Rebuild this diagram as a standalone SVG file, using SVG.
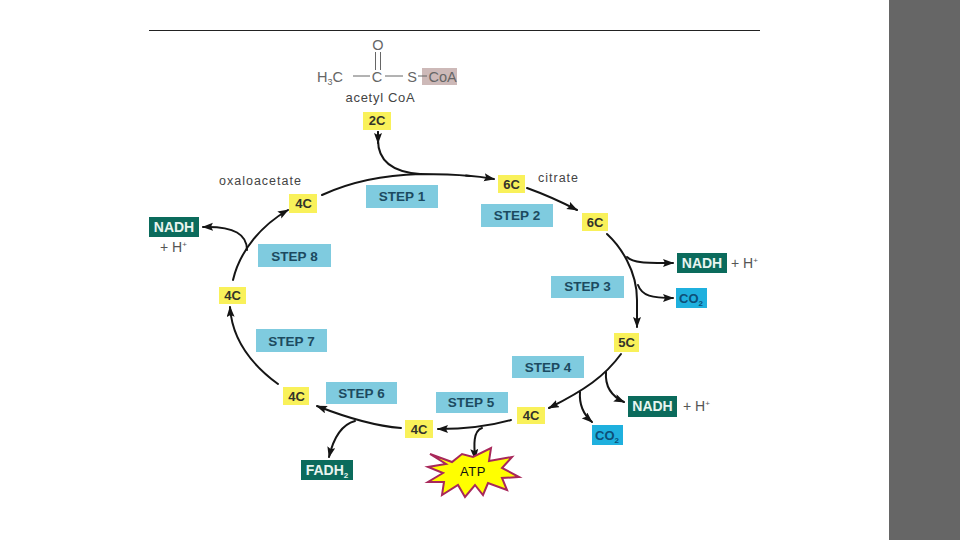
<svg xmlns="http://www.w3.org/2000/svg" width="960" height="540" viewBox="0 0 960 540">
<style>
text{font-family:"Liberation Sans",Arial,sans-serif}
.y rect{fill:#f9f15a}
.y text{font-size:13px;font-weight:bold;fill:#33332a;text-anchor:middle}
.s rect{fill:#7fcbdf}
.s text{font-size:13.500px;font-weight:bold;fill:#1c4a60;text-anchor:middle}
.g rect{fill:#0b6b5c}
.g text{font-size:14px;font-weight:bold;fill:#e8f5f0;text-anchor:middle}
.c rect{fill:#1fb0de}
.c text{font-size:13px;font-weight:bold;fill:#0d4f78;text-anchor:middle}
.t{font-size:12.500px;fill:#444;letter-spacing:1px}
.p{font-size:14px;fill:#555}
.sub{font-size:8px}
.l{fill:none;stroke:#151515;stroke-width:2;stroke-linecap:round}
.m{fill:none;stroke:#151515;stroke-width:2;stroke-linecap:round;marker-end:url(#a)}
.b{stroke:#666;stroke-width:1;fill:none}
.f{font-size:14.500px;fill:#666}
</style>
<defs><marker id="a" markerUnits="userSpaceOnUse" markerWidth="12" markerHeight="9" refX="10" refY="4" orient="auto"><path d="M0 0L11 4L0 8L2 4Z" fill="#151515"/></marker></defs>
<rect width="960" height="540" fill="#fff"/>
<rect x="889" y="0" width="71" height="540" fill="#666"/>
<line x1="149" y1="30.500" x2="760" y2="30.500" stroke="#222" stroke-width="1"/>

<g id="acetyl">
<rect x="422" y="68" width="35" height="17" fill="#cdb9b8"/>
<text class="f" x="317" y="82">H<tspan font-size="9" dy="3">3</tspan><tspan dy="-3">C</tspan></text>
<text class="f" x="377" y="82" text-anchor="middle">C</text>
<text class="f" x="412" y="82" text-anchor="middle">S</text>
<text class="f" x="428.500" y="82">CoA</text>
<text class="f" x="378" y="50" text-anchor="middle">O</text>
<path class="b" d="M353 76H370M385 76H403M418 76H427M375.500 52V70M380.500 52V70"/>
<text x="380.500" y="102" font-size="13" fill="#444" letter-spacing=".7" text-anchor="middle">acetyl CoA</text>
</g>

<g id="connectors">
<path class="l" d="M378 132V140C378 160 392 172 420 174"/>
<path class="m" d="M378 132V143"/>
<path class="l" d="M322 195C350 182 385 175 420 174C445 174 460 175 470 176"/>
<path class="m" d="M466 175.500Q480 176.500 494 179"/>
<path class="m" d="M527 188Q552 197 577 210"/>
<path class="m" d="M607 234C620 246 637 270 637 300L637 327"/>
<path class="m" d="M627 257C633 263 645 263 673 263"/>
<path class="m" d="M638 285C642 296 652 298 673 298"/>
<path class="m" d="M621 354C605 376 585 390 549 408"/>
<path class="m" d="M606 372C605 385 611 396 624 402"/>
<path class="m" d="M580 392C579 405 583 414 592 422"/>
<path class="m" d="M511 420C490 426 465 429 438 429"/>
<path class="m" d="M482 428C473 431 474 445 475 459"/>
<path class="m" d="M401 428C375 426 345 417 317 406"/>
<path class="m" d="M355 421C340 425 333 440 329 457"/>
<path class="m" d="M278 384C252 365 232 340 230 307"/>
<path class="m" d="M233 280C240 250 262 225 288 210"/>
<path class="m" d="M247 250C247 235 235 226 203 227"/>
</g>

<g class="y">
<g id="n2c"><rect x="363" y="112" width="28" height="18"/><text x="377" y="125">2C</text></g>
<g id="n6c1"><rect x="498" y="175" width="27" height="18"/><text x="511.500" y="189">6C</text></g>
<g id="n6c2"><rect x="582" y="213" width="26" height="18"/><text x="595" y="226.500">6C</text></g>
<g id="n5c"><rect x="614" y="333" width="25" height="19"/><text x="626.500" y="347">5C</text></g>
<g id="n4c1"><rect x="517" y="407" width="28" height="17"/><text x="531" y="420">4C</text></g>
<g id="n4c2"><rect x="405" y="420" width="28" height="18"/><text x="419" y="434">4C</text></g>
<g id="n4c3"><rect x="283" y="387" width="26" height="18"/><text x="296.500" y="401">4C</text></g>
<g id="n4c4"><rect x="219" y="287" width="27" height="17"/><text x="232.500" y="300">4C</text></g>
<g id="n4c5"><rect x="289" y="194" width="28" height="19"/><text x="303.500" y="208">4C</text></g>
</g>

<g class="s">
<g id="s1"><rect x="366" y="185" width="72" height="23"/><text x="402" y="201">STEP 1</text></g>
<g id="s2"><rect x="481" y="204" width="72" height="23"/><text x="517" y="220">STEP 2</text></g>
<g id="s3"><rect x="551" y="276" width="73" height="22"/><text x="587.500" y="291">STEP 3</text></g>
<g id="s4"><rect x="512" y="356" width="72" height="22"/><text x="548" y="372">STEP 4</text></g>
<g id="s5"><rect x="436" y="392" width="72" height="21"/><text x="471" y="407">STEP 5</text></g>
<g id="s6"><rect x="326" y="382" width="71" height="22"/><text x="361.500" y="398">STEP 6</text></g>
<g id="s7"><rect x="256" y="329" width="71" height="23"/><text x="291.500" y="346">STEP 7</text></g>
<g id="s8"><rect x="258" y="244" width="73" height="23"/><text x="294.500" y="261">STEP 8</text></g>
</g>

<g class="g">
<g id="nadh1"><rect x="149" y="217" width="50" height="20"/><text x="174" y="232">NADH</text></g>
<g id="nadh2"><rect x="677" y="253" width="50" height="20"/><text x="702" y="268">NADH</text></g>
<g id="nadh3"><rect x="628" y="396" width="49" height="21"/><text x="652.500" y="411">NADH</text></g>
<g id="fadh"><rect x="301" y="460" width="52" height="20"/><text x="327" y="475" font-size="13.500px">FADH<tspan class="sub" dy="3">2</tspan></text></g>
</g>

<g class="c">
<g id="co1"><rect x="676" y="288" width="31" height="20"/><text x="691" y="303">CO<tspan class="sub" dy="3">2</tspan></text></g>
<g id="co2"><rect x="592" y="425" width="31" height="20"/><text x="607" y="440">CO<tspan class="sub" dy="3">2</tspan></text></g>
</g>

<g id="labels">
<text class="t" x="219" y="185">oxaloacetate</text>
<text class="t" x="538" y="182">citrate</text>
<text class="p" x="160" y="252">+ H<tspan font-size="8" dy="-5">+</tspan></text>
<text class="p" x="731" y="268">+ H<tspan font-size="8" dy="-5">+</tspan></text>
<text class="p" x="683" y="411">+ H<tspan font-size="8" dy="-5">+</tspan></text>
</g>

<g id="atp">
<polygon points="430,454 452,462 462,454 473,457 491,448 489,461 512,457 502,468 519,477 502,478 507,490 488,483 483,495 475,485 465,497 458,485 442,495 444,482 428,482 443,473 428,467 446,464" fill="#ffff00" stroke="#a8285a" stroke-width="2"/>
<text x="473" y="476" font-size="13" letter-spacing=".6" fill="#111" text-anchor="middle">ATP</text>
</g>
</svg>
